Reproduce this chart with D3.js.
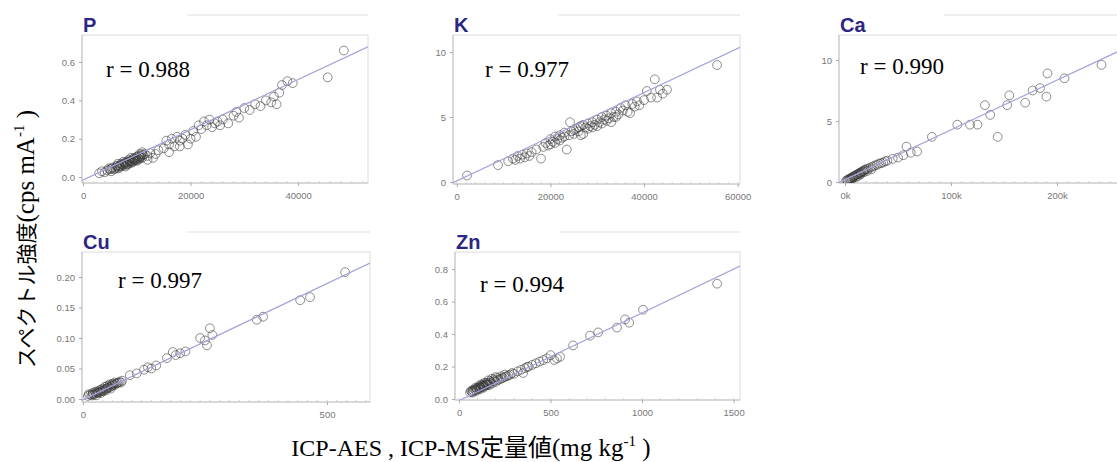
<!DOCTYPE html>
<html>
<head>
<meta charset="utf-8">
<script src="https://cdn.jsdelivr.net/npm/d3@7"></script>
<style>
  body { margin: 0; background: #fff; }
  svg { display: block; }
</style>
</head>
<body>
<script>
// ---- data ----
var titles  = ['P', 'K', 'Ca', 'Cu', 'Zn'];
var rValues = ['0.988', '0.977', '0.990', '0.997', '0.994'];

var pData = [[3000,0.02],[3500,0.03],[4000,0.025],[4500,0.035],[5000,0.04],[5200,0.03],[5500,0.05],[6000,0.045],
  [6200,0.055],[6500,0.05],[6800,0.06],[7000,0.055],[7200,0.065],[7500,0.06],[7700,0.07],[8000,0.065],[8200,0.075],
  [8400,0.07],[8600,0.08],[8800,0.075],[9000,0.085],[9200,0.08],[9400,0.09],[9600,0.085],[9800,0.095],[10000,0.09],
  [10200,0.1],[10400,0.095],[10600,0.105],[10800,0.11],[11000,0.1],[11200,0.115],[11500,0.12],[12000,0.11],[6500,0.07],
  [7500,0.08],[8500,0.09],[9500,0.1],[10500,0.12],[11000,0.13],[12500,0.125],[13500,0.12],[14000,0.14],[15000,0.15],
  [15500,0.19],[16000,0.17],[16500,0.2],[17000,0.16],[17500,0.21],[18000,0.19],[18500,0.2],[19000,0.22],[19500,0.17],
  [20000,0.2],[20500,0.24],[21000,0.21],[21500,0.27],[22000,0.25],[22500,0.29],[23000,0.27],[23500,0.3],[24000,0.26],
  [24500,0.28],[25000,0.29],[25500,0.27],[26000,0.3],[27000,0.28],[28000,0.32],[28500,0.34],[29000,0.31],[30000,0.36],
  [31000,0.35],[32000,0.38],[33000,0.37],[34000,0.4],[35000,0.39],[35500,0.42],[36000,0.38],[36500,0.44],[37000,0.48],
  [38000,0.5],[39000,0.49],[45500,0.52],[48500,0.66],[16000,0.13],[18000,0.16],[12000,0.09],[13000,0.1],
  [5800,0.04],[6300,0.06],[6700,0.055],[7100,0.07],[7400,0.065],[7800,0.075],[8100,0.08],[8300,0.065],[8700,0.085],
  [9100,0.075],[9300,0.095],[9700,0.09],[9900,0.105],[10100,0.085],[10300,0.11],[10700,0.1],[4800,0.045],[5300,0.045],
  [8900,0.1],[10900,0.12],[7900,0.055],[6600,0.045]];

var kData = [[2200,0.5],[8800,1.3],[11000,1.6],[12000,1.8],[12500,1.7],[13000,2.0],[13500,1.8],[14000,2.1],[14500,1.9],
  [15000,2.2],[16000,2.3],[17000,2.5],[18000,1.8],[18500,2.7],[19000,3.0],[19500,2.8],[20000,3.3],[20500,3.1],[21000,3.5],
  [21500,3.3],[22000,3.6],[22500,3.4],[23000,3.8],[23500,2.5],[24000,3.6],[24200,4.6],[24500,3.9],[25000,3.7],[25500,4.1],
  [26000,3.9],[26500,4.3],[27000,3.7],[27500,4.2],[28000,4.5],[28500,4.3],[29000,4.6],[29500,4.4],[30000,4.8],[30500,4.6],
  [31000,5.0],[31500,4.8],[32000,5.1],[32500,4.9],[33000,5.3],[33500,5.0],[34000,5.4],[34500,5.2],[35000,5.7],[35500,5.5],
  [36000,5.9],[36500,5.4],[37000,5.3],[37500,6.0],[38000,5.8],[38500,6.2],[39000,5.9],[40000,6.3],[40600,7.0],[41500,6.5],
  [42300,7.9],[42800,6.5],[43400,7.1],[44000,6.8],[44900,7.1],[55600,9.0],[22000,3.2],[23000,3.5],[25000,4.0],[26000,4.2],
  [27000,4.4],[28000,4.1],[29000,4.2],[30000,4.3],[31000,4.5],[32000,4.7],[33000,4.6],[34000,5.0],[26500,3.6],[21000,3.0],
  [20000,2.9],[15500,2.0]];

var caData = [[1000,0.1],[2000,0.15],[3000,0.2],[4000,0.25],[5000,0.3],[6000,0.35],[7000,0.4],[8000,0.45],[9000,0.5],
  [10000,0.55],[11000,0.6],[12000,0.65],[13000,0.7],[14000,0.75],[15000,0.8],[16000,0.85],[17000,0.9],[18000,0.95],
  [19000,1.0],[20000,1.05],[22000,1.1],[24000,1.2],[26000,1.25],[28000,1.35],[30000,1.4],[32000,1.5],[34000,1.55],
  [36000,1.6],[38000,1.7],[40000,1.75],[5000,0.2],[8000,0.35],[12000,0.5],[15000,0.7],[18000,0.8],[25000,1.05],
  [2500,0.05],[6500,0.25],[10500,0.4],[14500,0.6],[21000,0.9],
  [45000,1.9],[50000,2.0],[55000,2.2],[58000,2.9],[62000,2.4],[68000,2.5],[82000,3.7],[106000,4.7],[118000,4.7],
  [125000,4.7],[132000,6.3],[137000,5.5],[144000,3.7],[153000,6.3],[155000,7.1],[170000,6.5],[177000,7.5],[184000,7.7],
  [190000,7.0],[191000,8.9],[207000,8.5],[242000,9.6]];

var cuData = [[10,0.005],[15,0.007],[18,0.006],[20,0.008],[22,0.007],[25,0.009],[28,0.01],[30,0.011],[32,0.01],[35,0.012],
  [38,0.013],[40,0.014],[42,0.013],[45,0.016],[48,0.017],[50,0.018],[52,0.02],[55,0.019],[58,0.021],[60,0.022],[62,0.024],
  [65,0.023],[68,0.025],[70,0.026],[72,0.027],[75,0.028],[78,0.027],[80,0.03],[25,0.012],[35,0.015],[45,0.02],[55,0.024],
  [65,0.027],[20,0.01],[30,0.013],[40,0.017],[50,0.022],[60,0.025],[12,0.008],[27,0.006],[37,0.01],[47,0.014],[57,0.017],
  [96,0.039],[110,0.042],[125,0.048],[133,0.052],
  [140,0.05],[150,0.055],[172,0.067],[184,0.077],[199,0.075],[190,0.072],[210,0.078],[240,0.1],[250,0.096],[254,0.088],
  [260,0.116],[265,0.105],[356,0.13],[369,0.135],[445,0.162],[465,0.167],[537,0.208]];

var znData = [[60,0.04],[65,0.05],[70,0.045],[75,0.055],[80,0.05],[85,0.06],[90,0.055],[95,0.065],[100,0.06],[105,0.07],
  [110,0.065],[115,0.075],[120,0.07],[125,0.08],[130,0.075],[135,0.085],[140,0.08],[145,0.09],[150,0.085],[155,0.095],
  [160,0.09],[170,0.1],[180,0.095],[190,0.11],[200,0.105],[210,0.115],[220,0.12],[230,0.125],[240,0.13],[250,0.135],
  [260,0.14],[270,0.145],[280,0.15],[290,0.16],[300,0.155],[90,0.07],[110,0.08],[130,0.09],[150,0.1],[170,0.11],[190,0.12],
  [210,0.13],[230,0.14],[250,0.15],[120,0.09],[140,0.1],[160,0.115],[180,0.125],[200,0.135],[75,0.04],[95,0.05],
  [115,0.06],[135,0.07],[165,0.085],[320,0.17],[340,0.18],
  [350,0.16],[360,0.19],[372,0.197],[380,0.2],[400,0.21],[420,0.22],[440,0.23],[460,0.24],[480,0.25],[500,0.27],
  [520,0.24],[535,0.25],[552,0.26],[623,0.33],[716,0.39],[760,0.41],[863,0.44],[907,0.49],[930,0.47],[1005,0.55],[1410,0.71]];

// fitted lines (end points)
var pLine  = [[-200,-0.018],[53000,0.679]];
var kLine  = [[-800,-0.06],[60500,10.37]];
var caLine = [[-5660,-0.04],[265000,11.0]];
var cuLine = [[-2,-0.0018],[588,0.223]];
var znLine = [[-22,-0.022],[1535,0.819]];

// tick values
var pXTicks = [0, 20000, 40000],  pYTicks = [0, 0.2, 0.4, 0.6];
var kXTicks = [0, 20000, 40000, 60000], kYTicks = [0, 5, 10];
var caXTicks = [0, 100000, 200000], caYTicks = [0, 5, 10];
var cuXTicks = [0, 500], cuYTicks = [0, 0.05, 0.10, 0.15, 0.20];
var znXTicks = [0, 500, 1000, 1500], znYTicks = [0, 0.2, 0.4, 0.6, 0.8];

// ---- layout ----
var panels = [
  {data: pData,  line: pLine,  xt: pXTicks,  yt: pYTicks,  xf: d3.format('d'), yf: d3.format('.1f'),
   x0: 82,  y0: 35,  w: 286, h: 148, xd: [-200, 53000],   yd: [-0.031, 0.741], rx: 106, ry: 77},
  {data: kData,  line: kLine,  xt: kXTicks,  yt: kYTicks,  xf: d3.format('d'), yf: d3.format('d'),
   x0: 453, y0: 35,  w: 287, h: 149, xd: [-800, 60500],   yd: [-0.154, 11.31], rx: 485, ry: 77},
  {data: caData, line: caLine, xt: caXTicks, yt: caYTicks, xf: function(d){ return (d/1000) + 'k'; }, yf: d3.format('d'),
   x0: 839, y0: 35,  w: 287, h: 148, xd: [-5660, 265100], yd: [-0.082, 12.05], rx: 860, ry: 74},
  {data: cuData, line: cuLine, xt: cuXTicks, yt: cuYTicks, xf: d3.format('d'), yf: d3.format('.2f'),
   x0: 82,  y0: 252, w: 288, h: 150, xd: [-2, 588],       yd: [-0.0049, 0.241], rx: 118, ry: 288},
  {data: znData, line: znLine, xt: znXTicks, yt: znYTicks, xf: d3.format('d'), yf: d3.format('.1f'),
   x0: 455, y0: 252, w: 285, h: 148, xd: [-22, 1535],     yd: [-0.00615, 0.905], rx: 480, ry: 292}
];

var svg = d3.select('body').append('svg').attr('width', 1117).attr('height', 462);

// slight softening, the source is a blurry scan
svg.append('filter').attr('id', 'soft')
   .append('feGaussianBlur').attr('stdDeviation', 0.35);

panels.forEach(function(p, i) {
  var x = d3.scaleLinear().domain(p.xd).range([p.x0, p.x0 + p.w]);
  var y = d3.scaleLinear().domain(p.yd).range([p.y0 + p.h, p.y0]);
  var g = svg.append('g');

  // blanked header strip
  g.append('line')
   .attr('x1', p.x0 + 105).attr('x2', p.x0 + p.w).attr('y1', p.y0 - 20).attr('y2', p.y0 - 20)
   .attr('stroke', '#efefef').attr('stroke-width', 2);

  // frame
  g.append('rect')
   .attr('x', p.x0).attr('y', p.y0).attr('width', p.w).attr('height', p.h)
   .attr('fill', 'none').attr('stroke', '#dcdcdc');
  g.append('path')
   .attr('d', 'M' + p.x0 + ',' + p.y0 + 'V' + (p.y0 + p.h) + 'H' + (p.x0 + p.w))
   .attr('fill', 'none').attr('stroke', '#c4c4c4');

  // minor ticks along the bottom
  var minor = x.ticks(20);
  g.selectAll('line.minor').data(minor).enter().append('line')
   .attr('x1', function(d){ return x(d); }).attr('x2', function(d){ return x(d); })
   .attr('y1', p.y0 + p.h).attr('y2', p.y0 + p.h - 2)
   .attr('stroke', '#d0d0d0');

  // axes
  var ax = g.append('g').attr('transform', 'translate(0,' + (p.y0 + p.h) + ')')
    .call(d3.axisBottom(x).tickValues(p.xt).tickFormat(p.xf).tickSize(3).tickPadding(6));
  var ay = g.append('g').attr('transform', 'translate(' + p.x0 + ',0)')
    .call(d3.axisLeft(y).tickValues(p.yt).tickFormat(p.yf).tickSize(3).tickPadding(4));
  [ax, ay].forEach(function(a) {
    a.select('.domain').remove();
    a.selectAll('line').attr('stroke', '#aaa');
    a.selectAll('text').attr('fill', '#777').attr('font-size', 9.5)
     .attr('font-family', 'Liberation Sans, Arial, sans-serif');
  });

  // points
  var clip = 'clip' + i;
  svg.append('clipPath').attr('id', clip).append('rect')
    .attr('x', p.x0).attr('y', p.y0).attr('width', p.w).attr('height', p.h);

  g.append('g').attr('clip-path', 'url(#' + clip + ')').attr('filter', 'url(#soft)')
   .selectAll('circle').data(p.data).enter().append('circle')
   .attr('cx', function(d){ return x(d[0]); })
   .attr('cy', function(d){ return y(d[1]); })
   .attr('r', 4.4)
   .attr('fill', 'none')
   .attr('stroke', '#333')
   .attr('stroke-opacity', 0.55)
   .attr('stroke-width', 1);

  // fitted line
  g.append('path')
   .attr('clip-path', 'url(#' + clip + ')')
   .attr('d', d3.line().x(function(d){ return x(d[0]); }).y(function(d){ return y(d[1]); })(p.line))
   .attr('fill', 'none').attr('stroke', '#a3a3dc').attr('stroke-width', 1.2);

  // title
  g.append('text')
   .attr('x', p.x0 + 1).attr('y', p.y0 - 3)
   .attr('font-family', 'Liberation Sans, Arial, sans-serif')
   .attr('font-weight', 'bold').attr('font-size', 20).attr('fill', '#2c2784')
   .text(titles[i]);

  // r value
  g.append('text')
   .attr('x', p.rx).attr('y', p.ry)
   .attr('font-family', 'Liberation Serif, Times New Roman, serif')
   .attr('font-size', 23).attr('fill', '#000')
   .text('r = ' + rValues[i]);
});

// y axis title
var yt = svg.append('text')
  .attr('transform', 'translate(34,239) rotate(-90)')
  .attr('text-anchor', 'middle')
  .attr('font-size', 25).attr('fill', '#000');
yt.append('tspan').attr('font-family', 'Noto Sans CJK JP').attr('font-size', 21).text('スペクトル強度');
yt.append('tspan').attr('font-family', 'Liberation Serif, serif').text('(cps mA');
yt.append('tspan').attr('font-family', 'Liberation Serif, serif').attr('font-size', 15).attr('dy', -10).text('-1');
yt.append('tspan').attr('font-family', 'Liberation Serif, serif').attr('dy', 10).text(' )');

// x axis title
var xt = svg.append('text')
  .attr('x', 471).attr('y', 456)
  .attr('text-anchor', 'middle')
  .attr('font-size', 24).attr('fill', '#000');
xt.append('tspan').attr('font-family', 'Liberation Serif, serif').text('ICP-AES , ICP-MS');
xt.append('tspan').attr('font-family', 'Noto Sans CJK JP').text('定量値');
xt.append('tspan').attr('font-family', 'Liberation Serif, serif').attr('font-size', 25).text('(mg kg');
xt.append('tspan').attr('font-family', 'Liberation Serif, serif').attr('font-size', 15).attr('dy', -10).text('-1');
xt.append('tspan').attr('font-family', 'Liberation Serif, serif').attr('font-size', 25).attr('dy', 10).text(' )');
</script>
</body>
</html>
